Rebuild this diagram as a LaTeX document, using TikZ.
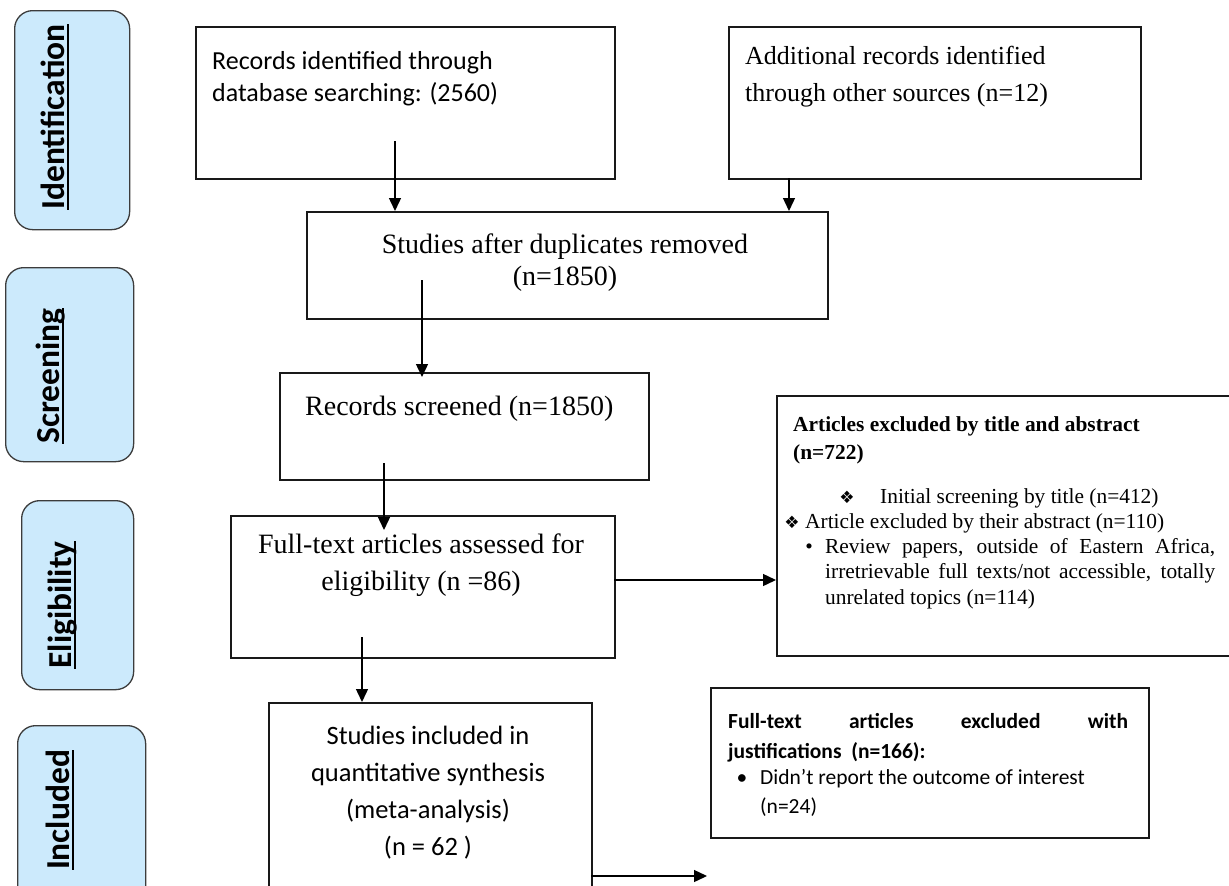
\documentclass[tikz,border=0pt]{standalone}
\usepackage{fontspec}
\setmainfont{Liberation Serif}
\newfontfamily\calfnt{Carlito}
\newfontfamily\tnrfnt{Liberation Serif}
\newfontfamily\djvfnt{DejaVu Sans}
\usetikzlibrary{arrows.meta}
\definecolor{stagefill}{RGB}{204,234,252}
\definecolor{stageline}{RGB}{60,60,60}
\newcommand\ulx[1]{\setbox0\hbox{#1}\rlap{\rule[-0.13em]{\wd0}{0.065em}}\box0}
\newcommand\blk[3]{\parbox[t]{#1}{\setlength\baselineskip{#2}#3}}
\begin{document}
\begin{tikzpicture}[x=1pt,y=-1pt,
  box/.style={draw=black!90, line width=1.5pt, inner sep=0pt, anchor=north west},
  stage/.style={draw=stageline, fill=stagefill, line width=1.3pt, rounded corners=18pt, inner sep=0pt, anchor=north west},
  lbl/.style={rotate=90, font=\calfnt\bfseries\fontsize{33.5}{40}\selectfont, inner sep=0pt},
  txt/.style={inner sep=0pt, anchor=base west},
  ctxt/.style={inner sep=0pt, anchor=base},
  arr/.style={line width=1.4pt, -{Triangle[length=13pt,width=12pt]}}]
\useasboundingbox (0,0) rectangle (1229,886);
\fill[white] (0,0) rectangle (1229,886);
\begin{scope}
\clip (0,0) rectangle (1229,886);
% stage boxes
\node[stage, minimum width=115pt, minimum height=219pt] (sid) at (14,10) {};
\node[stage, minimum width=128pt, minimum height=194pt] (ssc) at (5,267) {};
\node[stage, minimum width=112pt, minimum height=189pt] (sel) at (21,500) {};
\node[stage, minimum width=128pt, minimum height=200pt] (sin) at (17,725) {};
\node[lbl] (lid) at (55,117) {\ulx{Identification}};
\node[lbl] (lsc) at (51,376) {\ulx{Screening}};
\node[lbl] (lel) at (63,605) {\ulx{Eligibility}};
\node[lbl] (lin) at (60,810) {\ulx{Included}};
% main boxes
\node[box, minimum width=419pt, minimum height=152pt] (rec) at (195,26) {};
\node[box, minimum width=412pt, minimum height=152pt] (add) at (728,26) {};
\node[box, minimum width=521pt, minimum height=107pt] (stud) at (306,211) {};
\node[box, minimum width=369pt, minimum height=107pt] (rs) at (279,372) {};
\node[box, minimum width=384pt, minimum height=142pt] (ft) at (230,515) {};
\node[box, minimum width=470pt, minimum height=260pt] (ae) at (776,395) {};
\node[box, minimum width=323pt, minimum height=220pt] (si) at (268,702) {};
\node[box, minimum width=438pt, minimum height=150pt] (fte) at (710,687) {};
% texts
\node[txt, font=\calfnt\fontsize{26}{32}\selectfont] (trec) at (212,69)
  {\blk{400pt}{32pt}{\raggedright Records identified through\\database searching: (2560)}};
\node[txt, font=\tnrfnt\fontsize{26}{37}\selectfont] (tadd) at (745,64)
  {\blk{390pt}{37pt}{\raggedright Additional records identified\\through other sources (n=12)}};
\node[ctxt, font=\tnrfnt\fontsize{28}{32}\selectfont] (tstud) at (565,253)
  {\blk{500pt}{32pt}{\centering Studies after duplicates removed\\(n=1850)}};
\node[txt, font=\tnrfnt\fontsize{28}{32}\selectfont] (trs) at (305,415) {Records screened (n=1850)};
\node[ctxt, font=\tnrfnt\fontsize{28}{37}\selectfont] (tft) at (421,553)
  {\blk{380pt}{37pt}{\centering Full-text articles assessed for\\eligibility (n =86)}};
\node[ctxt, font=\calfnt\fontsize{26.5}{37}\selectfont] (tsi) at (428,744)
  {\blk{310pt}{37pt}{\centering Studies included in\\quantitative synthesis\\(meta-analysis)\\(n = 62 )}};
% articles excluded
\node[txt, font=\tnrfnt\bfseries\fontsize{21.4}{28}\selectfont] (tae1) at (793,431)
  {\blk{420pt}{28pt}{\raggedright Articles excluded by title and abstract\\(n=722)}};
\node[ctxt, font=\djvfnt\fontsize{17}{20}\selectfont] (dia1) at (847,503) {❖};
\node[txt, font=\tnrfnt\fontsize{21.4}{25}\selectfont] (tae2) at (880,503) {Initial screening by title (n=412)};
\node[ctxt, font=\djvfnt\fontsize{17}{20}\selectfont] (dia2) at (792,528) {❖};
\node[txt, font=\tnrfnt\fontsize{21.4}{25}\selectfont] (tae3) at (805,528) {Article excluded by their abstract (n=110)};
\node[ctxt, font=\tnrfnt\fontsize{21.4}{25}\selectfont] (bul1) at (809,553) {•};
\node[txt, font=\tnrfnt\fontsize{21.4}{25}\selectfont] (tae4) at (825,553)
  {\blk{390pt}{25.5pt}{\makebox[390pt][s]{Review papers, outside of Eastern Africa,}\\\makebox[390pt][s]{irretrievable full texts/not accessible, totally}\\unrelated topics (n=114)}};
% full-text excluded
\node[txt, font=\calfnt\bfseries\fontsize{21.5}{30}\selectfont] (tfte1) at (728,728)
  {\makebox[400pt][s]{Full-text articles excluded with}};
\node[txt, font=\calfnt\bfseries\fontsize{21.5}{30}\selectfont] (tfte2) at (728,758) {justifications\ \ (n=166):};
\node[ctxt, font=\calfnt\fontsize{21.5}{29}\selectfont] (bul2) at (742,784) {•};
\node[txt, font=\calfnt\fontsize{21.5}{29}\selectfont] (tfte3) at (760,784)
  {\blk{380pt}{29pt}{\raggedright Didn’t report the outcome of interest\\(n=24)}};
% connectors
\coordinate (a1) at (395,141);
\draw[arr] (a1) -- (a1 |- stud.north);
\coordinate (a2) at (789,178);
\draw[arr] (a2) -- (a2 |- stud.north);
\coordinate (a3) at (422,280);
\draw[arr] (a3) -- ([yshift=-5pt]a3 |- rs.north);
\coordinate (a4) at (384,463);
\draw[arr] (a4) -- ([yshift=-15pt]a4 |- ft.north);
\coordinate (a5) at (614,580);
\draw[arr] (a5) -- (a5 -| ae.west);
\coordinate (a6) at (362,637);
\draw[arr] (a6) -- (a6 |- si.north);
\coordinate (a7) at (591,876);
\coordinate (e7) at (707,876);
\draw[arr] (a7) -- (e7);
\end{scope}
\end{tikzpicture}
\end{document}
